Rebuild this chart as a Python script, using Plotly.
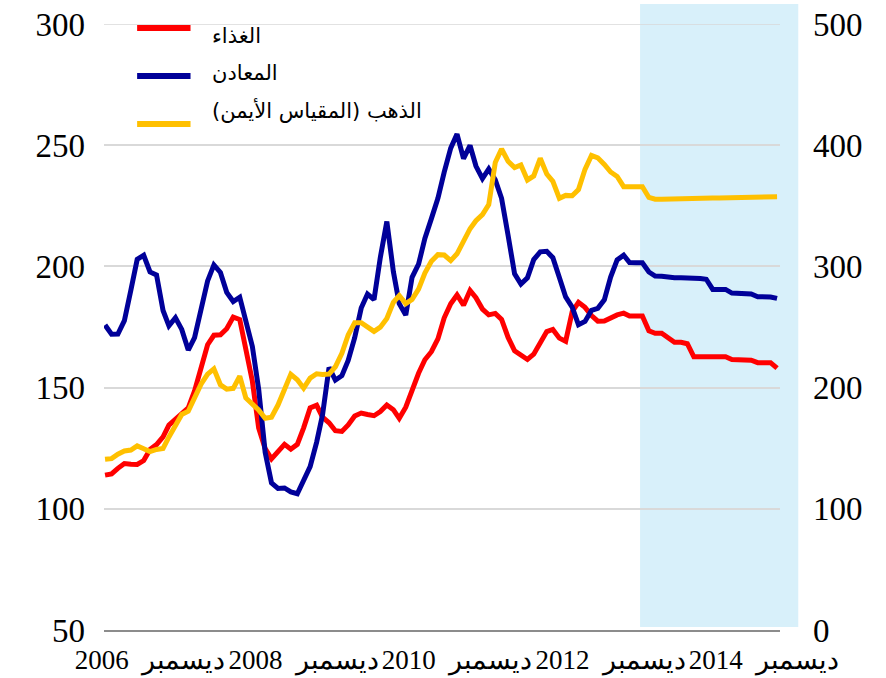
import pandas as pd
import plotly.graph_objects as go

# ---------------- data (monthly) ----------------
start_month = "2006-05-01"

food = [113.9, 114.4, 116.7, 118.7, 118.4, 118.3, 119.9, 124.5, 126.5, 129.7,
        134.5, 136.9, 138.7, 141.6, 148.6, 158.1, 167.7, 171.6, 171.8, 174.3,
        179.1, 178.1, 165.9, 152.7, 133.4, 124.8, 120.6, 123.5, 126.6, 124.6,
        126.6, 133.4, 141.6, 142.7, 137.8, 135.5, 132.2, 131.9, 134.6, 138.3,
        139.5, 138.9, 138.4, 140.1, 142.8, 140.9, 137.3, 141.9, 149.1, 155.9,
        161.5, 164.8, 170.1, 178.8, 184.6, 188.2, 184.0, 190.1, 187.1, 182.4,
        180.0, 180.6, 178.1, 170.7, 165.2, 163.6, 161.6, 163.8, 169.0, 173.1,
        174.0, 170.4, 169.1, 181.3, 185.2, 183.1, 179.7, 177.4, 177.5, 179.0,
        180.0, 180.7, 179.5, 179.5, 179.5, 173.4, 172.4, 172.4, 170.2, 168.7,
        168.7, 168.1, 162.7, 162.7, 162.7, 162.7, 162.7, 162.7, 161.6, 161.4,
        161.4, 161.3, 160.3, 160.3, 160.3, 158.0]

metals = [175.8, 172.0, 172.1, 177.6, 190.3, 202.9, 204.6, 197.7, 196.5, 181.8,
          175.5, 178.8, 174.0, 165.5, 170.6, 183.2, 194.0, 200.6, 197.5, 189.3,
          185.5, 187.3, 176.8, 167.0, 149.4, 123.3, 110.7, 108.4, 108.6, 107.0,
          106.2, 112.2, 117.4, 127.5, 138.8, 158.3, 153.1, 154.9, 161.2, 170.6,
          182.8, 188.6, 186.3, 203.7, 218.5, 197.9, 184.6, 179.9, 195.5, 200.9,
          211.5, 219.7, 228.1, 238.9, 248.8, 254.6, 244.5, 249.9, 241.4, 236.2,
          240.2, 235.7, 228.1, 212.8, 196.9, 192.7, 195.3, 202.8, 206.0, 206.2,
          203.6, 195.4, 187.4, 183.2, 175.9, 177.3, 181.9, 182.7, 186.2, 195.6,
          202.7, 204.6, 201.6, 201.5, 201.5, 197.7, 196.0, 195.9, 195.5, 195.3,
          195.3, 195.3, 195.2, 195.0, 194.7, 190.5, 190.5, 190.5, 189.0, 188.9,
          188.9, 188.6, 187.5, 187.5, 187.4, 186.8]

gold = [140.8, 141.4, 145.1, 147.7, 148.5, 151.9, 149.6, 147.2, 149.0, 149.8,
        159.3, 168.6, 177.9, 180.5, 191.9, 202.9, 211.1, 215.5, 202.3, 198.7,
        199.4, 209.4, 191.4, 186.3, 181.5, 174.7, 175.6, 185.6, 198.0, 210.9,
        206.5, 199.5, 207.8, 211.4, 210.8, 211.2, 217.2, 228.3, 243.4, 253.6,
        253.6, 250.3, 246.4, 249.9, 257.1, 270.3, 275.9, 269.3, 272.8, 281.3,
        294.5, 304.2, 309.7, 309.4, 304.8, 310.4, 321.5, 331.1, 337.7, 342.8,
        351.0, 385.7, 396.9, 386.7, 381.5, 383.7, 371.3, 374.6, 389.2, 376.2,
        370.2, 356.2, 358.6, 358.3, 363.4, 380.1, 391.5, 389.6, 384.1, 377.9,
        374.2, 365.8, 365.8, 365.8, 365.8, 356.9, 355.4, 355.4, 355.4, 355.4,
        355.4, 355.4, 355.6, 355.8, 356.1, 356.4, 356.5, 356.7, 356.8, 357.0,
        357.1, 357.2, 357.2, 357.3, 357.4, 357.5]

series_names = ["الغذاء", "المعادن", "الذهب (المقياس الأيمن)\u200f"]
series_colors = ["#FF0000", "#000099", "#FFC000"]

tick_dates = ["2006-12-01", "2008-12-01", "2010-12-01", "2012-12-01", "2014-12-01"]
tick_text = ["2006\u00a0\u00a0ديسمبر", "2008\u00a0\u00a0ديسمبر", "2010\u00a0\u00a0ديسمبر",
             "2012\u00a0\u00a0ديسمبر", "2014\u00a0\u00a0ديسمبر"]
left_ticks = [50, 100, 150, 200, 250, 300]
right_ticks = [0, 100, 200, 300, 400, 500]

months = pd.date_range(start_month, periods=len(food), freq="MS")

# ---------------- figure ----------------
fig = go.Figure()
fig.add_trace(go.Scatter(x=months, y=food, name=series_names[0], mode="lines",
                         line=dict(color=series_colors[0], width=5), yaxis="y"))
fig.add_trace(go.Scatter(x=months, y=metals, name=series_names[1], mode="lines",
                         line=dict(color=series_colors[1], width=5), yaxis="y"))
fig.add_trace(go.Scatter(x=months, y=gold, name=series_names[2], mode="lines",
                         line=dict(color=series_colors[2], width=5), yaxis="y2"))

serif = "Liberation Serif, Times New Roman, serif"
y_font = dict(family=serif, size=33, color="black")
x_font = dict(family=serif, size=27, color="black")

# forecast shading
shapes = [dict(type="rect", xref="paper", yref="paper", x0=0.793, x1=1.027,
               y0=0.005, y1=1.033, fillcolor="#D8F0FA", line=dict(width=0),
               layer="below")]
# top gridline (at the upper edge of the plot area)
shapes.append(dict(type="line", xref="paper", yref="y", x0=0, x1=1,
                   y0=left_ticks[-1], y1=left_ticks[-1],
                   line=dict(color="#D9D9D9", width=1.5), layer="below"))

# manual legend
leg_line_y = [0.9934, 0.9142, 0.8350]
leg_text_y = [0.980, 0.919, 0.858]
annotations = []
for name, color, ly, ty in zip(series_names, series_colors, leg_line_y, leg_text_y):
    shapes.append(dict(type="line", xref="paper", yref="paper", x0=0.049, x1=0.128,
                       y0=ly, y1=ly, line=dict(color=color, width=6)))
    annotations.append(dict(xref="paper", yref="paper", x=0.157, y=ty, text=name,
                            showarrow=False, xanchor="left", yanchor="middle",
                            font=dict(family="DejaVu Sans, sans-serif", size=21,
                                      color="black")))

fig.update_layout(
    width=886, height=678,
    margin=dict(l=104, r=106, t=24, b=48),
    paper_bgcolor="white", plot_bgcolor="white",
    showlegend=False,
    shapes=shapes, annotations=annotations,
    xaxis=dict(range=["2006-04-26", "2015-02-15"], tickvals=tick_dates,
               ticktext=tick_text, showgrid=False, zeroline=False,
               showline=True, linecolor="#8C8C8C", linewidth=2, ticks="",
               tickangle=0, tickfont=x_font, ticklabelstandoff=5,
               automargin=False, ticklabeloverflow="allow"),
    yaxis=dict(range=[50, 300], tickvals=left_ticks, showgrid=True,
               gridcolor="#D9D9D9", gridwidth=1.5, zeroline=False, ticks="",
               tickfont=y_font, ticklabelstandoff=18, automargin=False,
               ticklabeloverflow="allow"),
    yaxis2=dict(range=[0, 500], tickvals=right_ticks, overlaying="y", side="right",
                showgrid=False, zeroline=False, ticks="", tickfont=y_font,
                ticklabelstandoff=32, automargin=False, ticklabeloverflow="allow"),
)

# remove the default 8px page margin so the figure fills the window exactly
fig.write_html("out.html",
               config={"displayModeBar": False},
               post_script="document.body.style.margin='0px';"
                           "document.body.style.overflow='hidden';")
